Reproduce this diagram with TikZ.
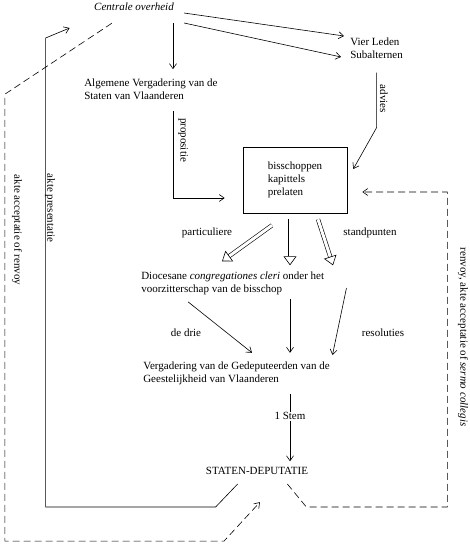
\documentclass[tikz,border=0pt]{standalone}
\usepackage{fontspec}
\setmainfont{Liberation Serif}
\usetikzlibrary{arrows.meta}

\tikzset{
  hollow/.style={double, double distance=3pt, -{Triangle[open, length=9pt, width=13pt]}},
  renvoyline/.style={dash pattern=on 7pt off 4pt},
  sidelabel/.style={rotate=-90, inner sep=1pt}
}

\begin{document}
\begin{tikzpicture}[x=1pt, y=-1pt, line width=0.6pt, >={Straight Barb[length=5pt, width=7pt]},
    every node/.style={font=\fontsize{11}{13}\selectfont, inner sep=1pt}]
  \useasboundingbox (0,0) rectangle (470,545);

  % bodies
  \node (centrale) [font=\fontsize{11}{13}\selectfont\itshape] at (134,7) {Centrale overheid};
  \node (vier) [align=left, anchor=west] at (349,48) {Vier Leden\\Subalternen};
  \node (algemene) [align=left, anchor=west] at (83,89.5) {Algemene Vergadering van de\\Staten van Vlaanderen};
  \node (kerk) [draw, align=left, minimum width=104pt, minimum height=66pt] at (295,180) {bisschoppen\\kapittels\\prelaten};
  \node (dioc) [align=left, anchor=west] at (140,283) {Diocesane \textit{congregationes cleri} onder het\\voorzitterschap van de bisschop};
  \node (verg) [align=left, anchor=west] at (142,373.5) {Vergadering van de Gedeputeerden van de\\Geestelijkheid van Vlaanderen};
  \node (staten) at (257,471) {STATEN-DEPUTATIE};

  % labels
  \node (advies) [sidelabel] at (384,99) {advies};
  \node (propositie) [sidelabel] at (183,140) {propositie};
  \node (presentatie) [sidelabel] at (50,208) {akte presentatie};
  \node (acceptatie) [sidelabel] at (17,230) {akte acceptatie of renvoy};
  \node (renvoy) [sidelabel] at (463,337) {renvoy, akte acceptatie of \textit{sermo collegis}};
  \node (particuliere) at (207,233) {particuliere};
  \node (standpunten) at (370,233) {standpunten};
  \node (drie) at (186,333) {de drie};
  \node (resoluties) at (383,333) {resoluties};

  % top
  \draw[->] ([xshift=39pt, yshift=-11pt]centrale.south) coordinate (cdown) -- ++(0,46);
  \draw[->] ([xshift=9pt, yshift=-6pt]centrale.east) -- ([xshift=-5pt, yshift=12pt]vier.west);
  \draw[->] ([xshift=9pt, yshift=-16pt]centrale.east) -- ([xshift=-8pt, yshift=-9pt]vier.west);
  \draw[->] ([yshift=-13pt]vier.south) -- ++(0,55) -- ([xshift=6pt, yshift=11pt]kerk.east);
  \coordinate (algsouth) at (cdown |- algemene.south);
  \draw[->] ([yshift=-10pt]algsouth) |- ([xshift=-18pt, yshift=-18pt]kerk.west);

  % hollow arrows
  \draw[hollow] ([xshift=-23pt, yshift=-12pt]kerk.south) -- ++(-50,36);
  \draw[hollow] ([xshift=-5pt, yshift=-6pt]kerk.south) -- ++(0,46);
  \draw[hollow] ([xshift=23pt, yshift=-6pt]kerk.south) -- ++(15,46);

  % to the Gedeputeerden
  \draw[->] ([xshift=48pt, yshift=-6pt]dioc.south west) -- ++(64,51);
  \draw[->] ([xshift=150pt, yshift=-3pt]dioc.south west) -- ++(0,54);
  \draw[->] ([xshift=21pt, yshift=-5pt]dioc.east) -- ++(-14,67);
  \draw[->] ([xshift=148pt, yshift=-8pt]verg.south west) -- ++(0,67)
    node (stem) [pos=0.33, fill=white] {1 Stem};

  % back to the centre
  \draw ([xshift=33pt, yshift=-8pt]staten.south west) -- ++(-22,23) -- ++(-170,0) -- ++(0,-469) [->] -- ++(24,-10);
  \draw[renvoyline, ->] ([xshift=19pt, yshift=-11pt]centrale.south west) -- ++(-107,71) -- ++(0,447) -- ++(219,0) -- ++(36,-39);
  \draw[renvoyline, ->] ([xshift=-22pt, yshift=-8pt]staten.south east) -- ++(19,23) -- ++(141,0) |- ([xshift=15pt, yshift=-12pt]kerk.east);
\end{tikzpicture}
\end{document}
